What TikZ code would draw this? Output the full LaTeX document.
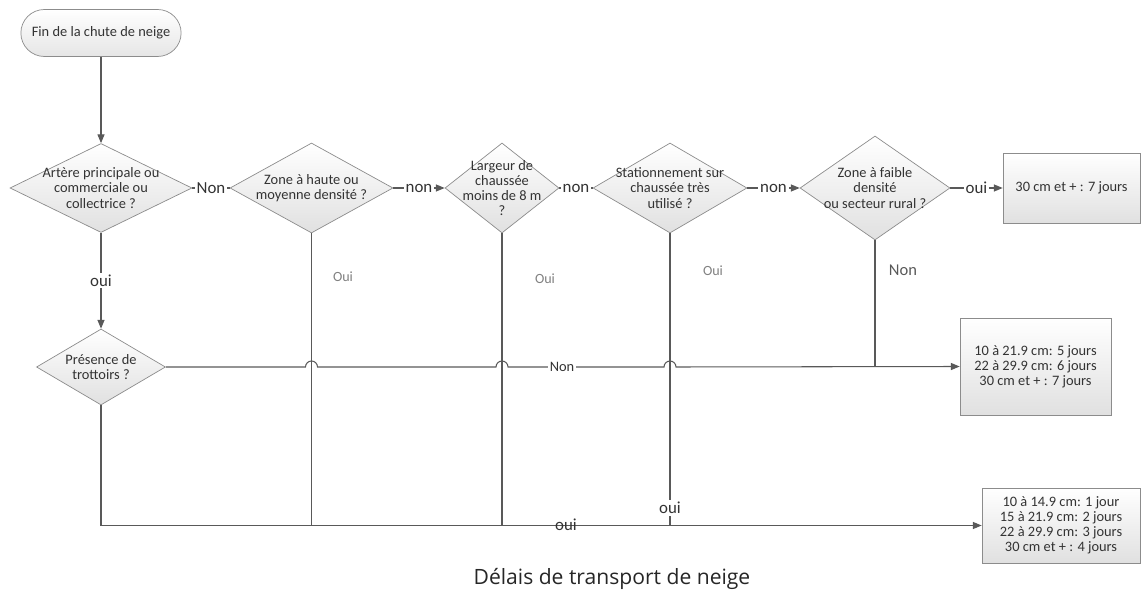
\documentclass[tikz,border=0pt]{standalone}
\usepackage{fontspec}
\setmainfont{Carlito}
\newfontfamily\captionfont{Open Sans}
\usetikzlibrary{shapes.geometric,shapes.misc,arrows.meta}
\definecolor{linegray}{HTML}{595959}
\definecolor{edgegray}{HTML}{8C8C8C}
\definecolor{textgray}{HTML}{333333}
\begin{document}
\begin{tikzpicture}[x=0.02cm,y=-0.02cm,
    font=\fontsize{8.2}{8.6}\selectfont, text=textgray,
    dec/.style={diamond, draw=edgegray, top color=white, bottom color=black!12, inner sep=0pt},
    delai/.style={rectangle, draw=edgegray, top color=white, bottom color=black!12, align=center, inner sep=0pt},
    wire/.style={draw=linegray, line width=0.6pt},
    conn/.style={wire, -{Triangle[length=5pt,width=4pt]}},
    biglbl/.style={fill=white, inner sep=1pt, font=\fontsize{9.6}{10}\selectfont},
    ouilbl/.style={text=black!50, font=\fontsize{8}{9}\selectfont}]
    \useasboundingbox (0,0) rectangle (1141,590);

    % start and questions
    \node[rounded rectangle, draw=edgegray, top color=white, bottom color=black!10,
          minimum width=3.44cm, minimum height=0.94cm] (debut) at (101,33) {Fin de la chute de neige};
    \node[dec, minimum width=3.64cm, minimum height=1.78cm,
          label={[align=center]center:Artère principale ou\\commerciale ou\\collectrice ?}] (d1) at (101,188) {};
    \node[dec, minimum width=3.26cm, minimum height=1.8cm,
          label={[align=center]center:Zone à haute ou\\moyenne densité ?}] (d2) at (311.5,188) {};
    \node[dec, minimum width=2.28cm, minimum height=1.8cm,
          label={[align=center]center:Largeur de\\chaussée\\moins de 8 m\\?}] (d3) at (502,188) {};
    \node[dec, minimum width=3.08cm, minimum height=1.8cm,
          label={[align=center]center:Stationnement sur\\chaussée très\\utilisé ?}] (d4) at (670,188) {};
    \node[dec, minimum width=3.0cm, minimum height=2.08cm,
          label={[align=center]center:Zone à faible\\densité\\ou secteur rural ?}] (d5) at (875,188) {};
    \node[dec, minimum width=2.58cm, minimum height=1.52cm,
          label={[align=center]center:Présence de\\trottoirs ?}] (d6) at (101,367) {};

    % delays
    \node[delai, minimum width=2.74cm, minimum height=1.4cm] (b1) at (1071.5,188) {30 cm et + : 7 jours};
    \node[delai, minimum width=3.02cm, minimum height=1.94cm] (b2) at (1035.5,366.5)
        {10 à 21.9 cm: 5 jours\\22 à 29.9 cm: 6 jours\\30 cm et + : 7 jours};
    \node[delai, minimum width=3.16cm, minimum height=1.5cm] (b3) at (1061,525.5)
        {10 à 14.9 cm: 1 jour\\15 à 21.9 cm: 2 jours\\22 à 29.9 cm: 3 jours\\30 cm et + : 4 jours};

    % top row
    \draw[conn] (debut.south) -- (d1.north);
    \draw[wire] (d1.east) -- node[biglbl] (l1) {Non} (d2.west);
    \draw[conn] (d2.east) -- node[biglbl] (l2) {non} (d3.west);
    \draw[wire] (d3.east) -- node[biglbl] (l3) {non} (d4.west);
    \draw[conn] (d4.east) -- node[biglbl] (l4) {non} (d5.west);
    \draw[conn] (d5.east) -- node[biglbl] (l5) {oui} (b1.west);
    \draw[conn] (d1.south) -- node[biglbl] (l6) {oui} (d6.north);

    % sidewalk line with hops
    \draw[conn] (d6.east) -- ([xshift=-0.12cm]d2.south |- d6.east) arc (180:0:0.12cm)
        -- ([xshift=-0.12cm]d3.south |- d6.east) arc (180:0:0.12cm)
        -- ([xshift=-0.12cm]d4.south |- d6.east) arc (180:0:0.12cm)
        -- (b2.west);
    \node[fill=white, inner sep=1pt] (l7) at (562,367) {Non};
    \draw[wire] (d5.south) -- (d5.south |- d6.east);
    \node[ouilbl, text=black!65, font=\fontsize{9.4}{10}\selectfont] (l8) at (903,270) {Non};

    % oui branches
    \draw[conn] (d6.south) |- (b3.west);
    \draw[wire] (d2.south) -- (d2.south |- b3.west);
    \draw[wire] (d3.south) -- (d3.south |- b3.west);
    \draw[wire] (d4.south) -- (d4.south |- b3.west);
    \node[ouilbl] (o2) at (343,277) {Oui};
    \node[ouilbl] (o3) at (545,279) {Oui};
    \node[ouilbl] (o4) at (713,271) {Oui};
    \node[biglbl] (o5) at (670,508) {oui};
    \node[font=\fontsize{9.6}{10}\selectfont] (o6) at (566,525) {oui};

    \node[font=\captionfont\fontsize{12}{14}\selectfont, text=black!85] (titre) at (612,579) {Délais de transport de neige};
\end{tikzpicture}
\end{document}
